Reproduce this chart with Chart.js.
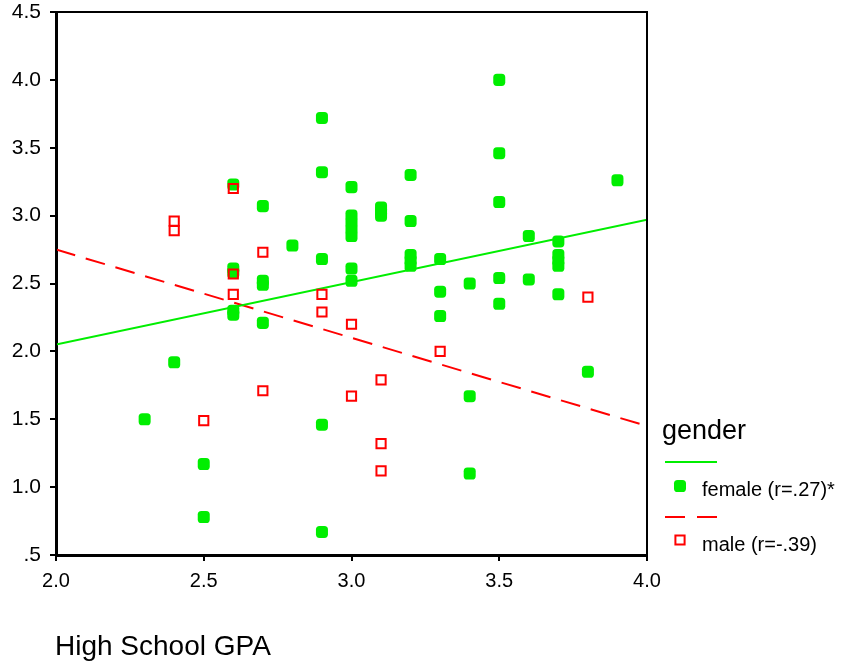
<!DOCTYPE html>
<html>
<head>
<meta charset="utf-8">
<script src="https://cdn.jsdelivr.net/npm/chart.js@4"></script>
<style>
  html, body { margin: 0; padding: 0; background: #fff; }
  #wrap { width: 854px; height: 666px; position: relative; }
</style>
</head>
<body>
<div id="wrap"><canvas id="chart" width="854" height="666"></canvas></div>
<script>
// female: high school GPA and college GPA
const femaleGpa = [2.3, 2.4, 2.5, 2.5, 2.6, 2.6, 2.6, 2.6, 2.6, 2.7, 2.7, 2.7, 2.7, 2.8,
  2.9, 2.9, 2.9, 2.9, 2.9, 3.0, 3.0, 3.0, 3.0, 3.0, 3.0, 3.0, 3.1, 3.1, 3.1,
  3.2, 3.2, 3.2, 3.2, 3.2, 3.3, 3.3, 3.3, 3.4, 3.4, 3.4, 3.5, 3.5, 3.5, 3.5, 3.5,
  3.6, 3.6, 3.7, 3.7, 3.7, 3.7, 3.7, 3.8, 3.9];
const femaleCollege = [1.50, 1.92, 1.17, 0.78, 3.23, 2.61, 2.58, 2.30, 2.27, 3.07, 2.52, 2.49, 2.21, 2.78,
  3.72, 3.32, 2.68, 1.46, 0.67, 3.21, 3.00, 2.95, 2.90, 2.85, 2.61, 2.52, 3.06, 3.03, 3.00,
  3.30, 2.96, 2.71, 2.67, 2.63, 2.68, 2.44, 2.26, 2.50, 1.67, 1.10, 4.00, 3.46, 3.10, 2.54, 2.35,
  2.85, 2.53, 2.81, 2.71, 2.67, 2.63, 2.42, 1.85, 3.26];

// male
const maleGpa = [2.4, 2.4, 2.5, 2.6, 2.6, 2.6, 2.7, 2.7, 2.9, 2.9, 3.0, 3.0, 3.1, 3.1, 3.1, 3.3, 3.8];
const maleCollege = [2.96, 2.89, 1.49, 3.20, 2.57, 2.42, 2.73, 1.71, 2.42, 2.29, 2.20, 1.67, 1.79, 1.32, 1.12, 2.00, 2.40];

// fit lines (ends at x = 2.0 and 4.0)
const fitX = [2.0, 4.0];
const femaleFit = [2.05, 2.97];
const maleFit = [2.75, 1.45];

const xTicks = [2.0, 2.5, 3.0, 3.5, 4.0];
const yTicks = [0.5, 1.0, 1.5, 2.0, 2.5, 3.0, 3.5, 4.0, 4.5];

const legendTitle = 'gender';
const legendLabels = ['female (r=.27)*', 'male (r=-.39)'];
const xTitle = 'High School GPA';

const FONT = "Arial, 'Liberation Sans', sans-serif";
const GREEN = '#00ee00';
const RED = '#ff0000';

const toPoints = (xs, ys) => xs.map((x, i) => ({ x: x, y: ys[i] }));

const greenPoint = { pointStyle: 'rectRounded', radius: 7, borderWidth: 0, rotation: 0 };
const redPoint = { pointStyle: 'rect', radius: 6.5, borderWidth: 2, rotation: 0 };

// frame, x title and legend
const extras = {
  id: 'extras',
  afterDraw(chart) {
    const ctx = chart.ctx;
    const a = chart.chartArea;
    ctx.save();
    ctx.strokeStyle = '#000';
    ctx.lineWidth = 2;
    ctx.strokeRect(a.left, a.top, a.right - a.left, a.bottom - a.top);

    ctx.fillStyle = '#000';
    ctx.textBaseline = 'middle';
    ctx.textAlign = 'left';
    ctx.font = '28px ' + FONT;
    ctx.fillText(xTitle, 55, 647);

    ctx.font = '27px ' + FONT;
    ctx.fillText(legendTitle, 662, 432);

    ctx.lineWidth = 2;
    ctx.strokeStyle = GREEN;
    ctx.beginPath();
    ctx.moveTo(665, 462); ctx.lineTo(717, 462);
    ctx.stroke();
    ctx.fillStyle = GREEN;
    Chart.helpers.drawPoint(ctx, greenPoint, 680, 486);

    ctx.strokeStyle = RED;
    ctx.setLineDash([20, 12]);
    ctx.beginPath();
    ctx.moveTo(665, 517); ctx.lineTo(717, 517);
    ctx.stroke();
    ctx.setLineDash([]);
    ctx.fillStyle = '#fff';
    ctx.lineWidth = 2;
    Chart.helpers.drawPoint(ctx, redPoint, 680, 540);

    ctx.fillStyle = '#000';
    ctx.font = '20px ' + FONT;
    ctx.fillText(legendLabels[0], 702, 490);
    ctx.fillText(legendLabels[1], 702, 545);
    ctx.restore();
  }
};

const ctx = document.getElementById('chart').getContext('2d');
const chart = new Chart(ctx, {
  type: 'scatter',
  data: {
    datasets: [
      {
        label: legendLabels[0],
        data: toPoints(femaleGpa, femaleCollege),
        pointStyle: 'rectRounded',
        pointRadius: 7,
        pointBackgroundColor: GREEN,
        pointBorderWidth: 0,
        order: 2
      },
      {
        label: legendLabels[1],
        data: toPoints(maleGpa, maleCollege),
        pointStyle: 'rect',
        pointRadius: 6.5,
        pointBackgroundColor: 'rgba(255,255,255,0)',
        pointBorderColor: RED,
        pointBorderWidth: 2,
        order: 1
      },
      {
        type: 'line',
        data: toPoints(fitX, femaleFit),
        borderColor: GREEN,
        borderWidth: 2,
        pointRadius: 0,
        fill: false,
        order: 3
      },
      {
        type: 'line',
        data: toPoints(fitX, maleFit),
        borderColor: RED,
        borderWidth: 2,
        borderDash: [20, 11],
        pointRadius: 0,
        fill: false,
        order: 3
      }
    ]
  },
  options: {
    responsive: false,
    animation: false,
    layout: { padding: { top: 12, right: 207, left: 0, bottom: 0 } },
    plugins: {
      legend: { display: false },
      tooltip: { enabled: false },
      title: { display: false }
    },
    scales: {
      x: {
        type: 'linear',
        min: 2, max: 4,
        afterBuildTicks: s => { s.ticks = xTicks.map(v => ({ value: v })); },
        afterFit: s => { s.height = 111; s.paddingLeft = 0; s.paddingRight = 0; },
        grid: { drawOnChartArea: false, drawTicks: true, tickLength: 6, color: '#000', lineWidth: 2 },
        border: { display: true, color: '#000', width: 3 },
        ticks: {
          color: '#000',
          padding: 8,
          maxRotation: 0,
          font: { family: FONT, size: 20 },
          callback: v => v.toFixed(1)
        }
      },
      y: {
        type: 'linear',
        min: 0.5, max: 4.5,
        afterBuildTicks: s => { s.ticks = yTicks.map(v => ({ value: v })); },
        afterFit: s => { s.width = 56; s.paddingTop = 0; s.paddingBottom = 0; },
        grid: { drawOnChartArea: false, drawTicks: true, tickLength: 6, color: '#000', lineWidth: 2 },
        border: { display: true, color: '#000', width: 3 },
        ticks: {
          color: '#000',
          padding: 9,
          font: { family: FONT, size: 21 },
          callback: v => v === 0.5 ? '.5' : v.toFixed(1)
        }
      }
    }
  },
  plugins: [extras]
});
</script>
</body>
</html>
